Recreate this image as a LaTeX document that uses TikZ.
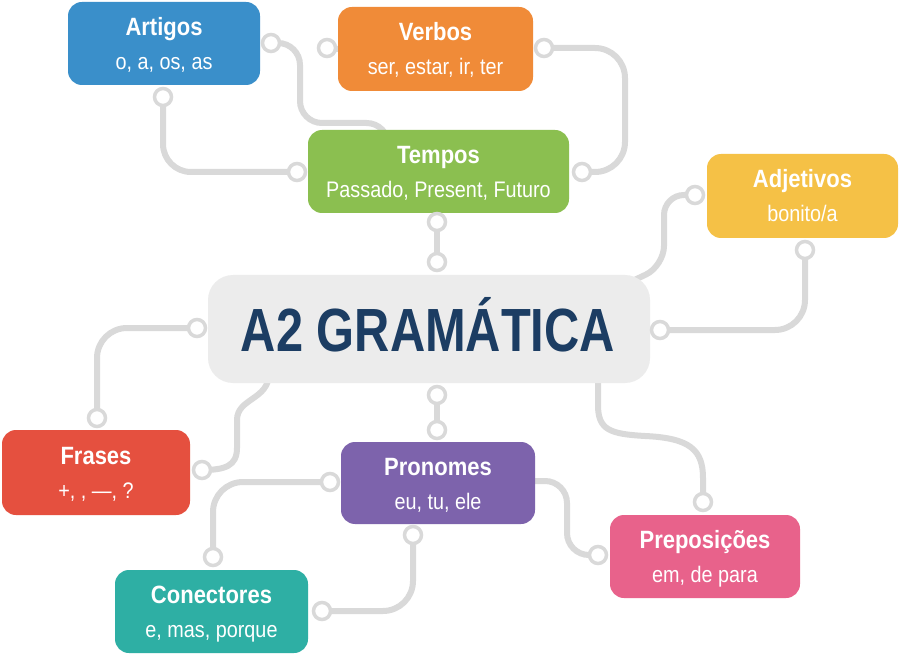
\documentclass[tikz,border=0pt]{standalone}
\usepackage{fontspec}
\setmainfont{Liberation Sans}[FakeStretch=0.88]
\newfontfamily\bigfont{Liberation Sans}[FakeStretch=0.8]
\usetikzlibrary{backgrounds}
\definecolor{cline}{HTML}{D9D9D9}
\definecolor{cblue}{HTML}{3A8FCA}
\definecolor{corange}{HTML}{F08B38}
\definecolor{cgreen}{HTML}{8BBF50}
\definecolor{cyellow}{HTML}{F5C146}
\definecolor{cgray}{HTML}{ECECEC}
\definecolor{cnavy}{HTML}{1C3D63}
\definecolor{cred}{HTML}{E5503F}
\definecolor{cpurple}{HTML}{7D63AC}
\definecolor{cpink}{HTML}{E8628B}
\definecolor{cteal}{HTML}{2EAFA4}
\begin{document}
\begin{tikzpicture}[x=1pt,y=-1pt,
  cbox/.style={fill=#1, rounded corners=14pt, inner sep=0pt},
  ttl/.style={text=white, font=\bfseries\fontsize{25}{25}\selectfont, anchor=base, inner sep=0pt},
  sub/.style={text=white, font=\fontsize{22.5}{22.5}\selectfont, anchor=base, inner sep=0pt},
  dot/.style={circle, draw=cline, line width=3.5pt, fill=white, minimum size=17pt, inner sep=0pt},
  link/.style={draw=cline, line width=6pt, line cap=round}]
\useasboundingbox (0,0) rectangle (900,655);

% boxes
\node[cbox=cblue, minimum width=192pt, minimum height=83pt] (art) at (164,43.5) {};
\node[ttl] (artT) at (164,35.5) {Artigos};
\node[sub] (artS) at (164,69.5) {o, a, os, as};

\node[cbox=corange, minimum width=195pt, minimum height=84pt] (verb) at (435.5,49) {};
\node[ttl] (verbT) at (435.5,41) {Verbos};
\node[sub] (verbS) at (435.5,75) {ser, estar, ir, ter};

\node[cbox=cgreen, minimum width=261pt, minimum height=83pt] (temp) at (438.5,171.5) {};
\node[ttl] (tempT) at (438.5,163.5) {Tempos};
\node[sub] (tempS) at (438.5,197.5) {Passado, Present, Futuro};

\node[cbox=cyellow, minimum width=191pt, minimum height=84pt] (adj) at (802.5,196) {};
\node[ttl] (adjT) at (802.5,188) {Adjetivos};
\node[sub] (adjS) at (802.5,222) {bonito/a};

\node[cbox=cgray, rounded corners=25pt, minimum width=442pt, minimum height=108pt] (cen) at (429,329) {};
\node[text=cnavy, font=\bigfont\bfseries\fontsize{61}{61}\selectfont, anchor=base, inner sep=0pt] (cenT) at (428,351) {A2 GRAMÁTICA};

\node[cbox=cred, minimum width=188pt, minimum height=85pt] (fra) at (96,472.5) {};
\node[ttl] (fraT) at (96,464.5) {Frases};
\node[sub] (fraS) at (96,498.5) {+, , —, ?};

\node[cbox=cpurple, minimum width=194pt, minimum height=82pt] (pron) at (438,483) {};
\node[ttl] (pronT) at (438,475) {Pronomes};
\node[sub] (pronS) at (438,509) {eu, tu, ele};

\node[cbox=cpink, minimum width=190pt, minimum height=83pt] (prep) at (705,556.5) {};
\node[ttl] (prepT) at (705,548.5) {Preposições};
\node[sub] (prepS) at (705,582.5) {em, de para};

\node[cbox=cteal, minimum width=193pt, minimum height=83pt] (conn) at (211.5,611.5) {};
\node[ttl] (connT) at (211.5,603.5) {Conectores};
\node[sub] (connS) at (211.5,637.5) {e, mas, porque};

% dots
\node[dot] (a_r) at (271,43) {};
\node[dot] (a_b) at (163,97) {};
\node[dot] (v_l) at (327,48) {};
\node[dot] (v_r) at (544,48) {};
\node[dot] (t_l) at (297,172) {};
\node[dot] (t_r) at (582,172) {};
\node[dot] (t_b) at (437,222) {};
\node[dot] (c_t) at (437,262) {};
\node[dot] (ad_l) at (695,195) {};
\node[dot] (ad_b) at (805,250) {};
\node[dot] (c_r) at (660,330) {};
\node[dot] (c_l) at (197,328) {};
\node[dot] (f_t) at (97,418) {};
\node[dot] (f_r) at (202,470) {};
\node[dot] (c_b) at (437,395) {};
\node[dot] (p_t) at (437,430) {};
\node[dot] (p_l) at (330,482) {};
\node[dot] (p_b) at (413,535) {};
\node[dot] (co_t) at (213,557) {};
\node[dot] (co_r) at (322,611) {};
\node[dot] (pr_l) at (598,555) {};
\node[dot] (pr_t) at (703,502) {};

\begin{scope}[on background layer]
\fill[white] (0,0) rectangle (900,655);
\draw[link, rounded corners=22pt] (a_r.center) -| (300,123) -| ([xshift=-50pt,yshift=-20pt]temp.north);
\draw[link, rounded corners=28pt] (a_b.center) |- (t_l.center);
\draw[link] (v_l.center) -- (verb.west);
\draw[link, rounded corners=30pt] (v_r.center) -| (625,172) -- (t_r.center);
\draw[link] (t_b.center) -- (c_t.center);
\draw[link, rounded corners=20pt] (ad_l.center) -- (664,195) -- (664,266) -- (626,284);
\draw[link, rounded corners=30pt] (ad_b.center) |- (c_r.center);
\draw[link, rounded corners=30pt] (c_l.center) -| (f_t.center);
\draw[link] ([xshift=-160pt,yshift=10pt]cen.south) .. controls (269,400) and (237,398) .. (237,420) -- (237,448) .. controls (237,466) and (225,470) .. (f_r.center);
\draw[link] (c_b.center) -- (p_t.center);
\draw[link, rounded corners=30pt] (p_l.center) -| (co_t.center);
\draw[link, rounded corners=30pt] (p_b.center) |- (co_r.center);
\draw[link, rounded corners=22pt] ([xshift=-10pt,yshift=2pt]pron.east) -- (567,481) -- (567,555) -- (pr_l.center);
\draw[link] ([xshift=169pt,yshift=10pt]cen.south) -- (598,405) .. controls (598,430) and (610,434) .. (645,436) .. controls (690,438) and (703,450) .. (703,478) -- (pr_t.center);
\end{scope}
\end{tikzpicture}
\end{document}
